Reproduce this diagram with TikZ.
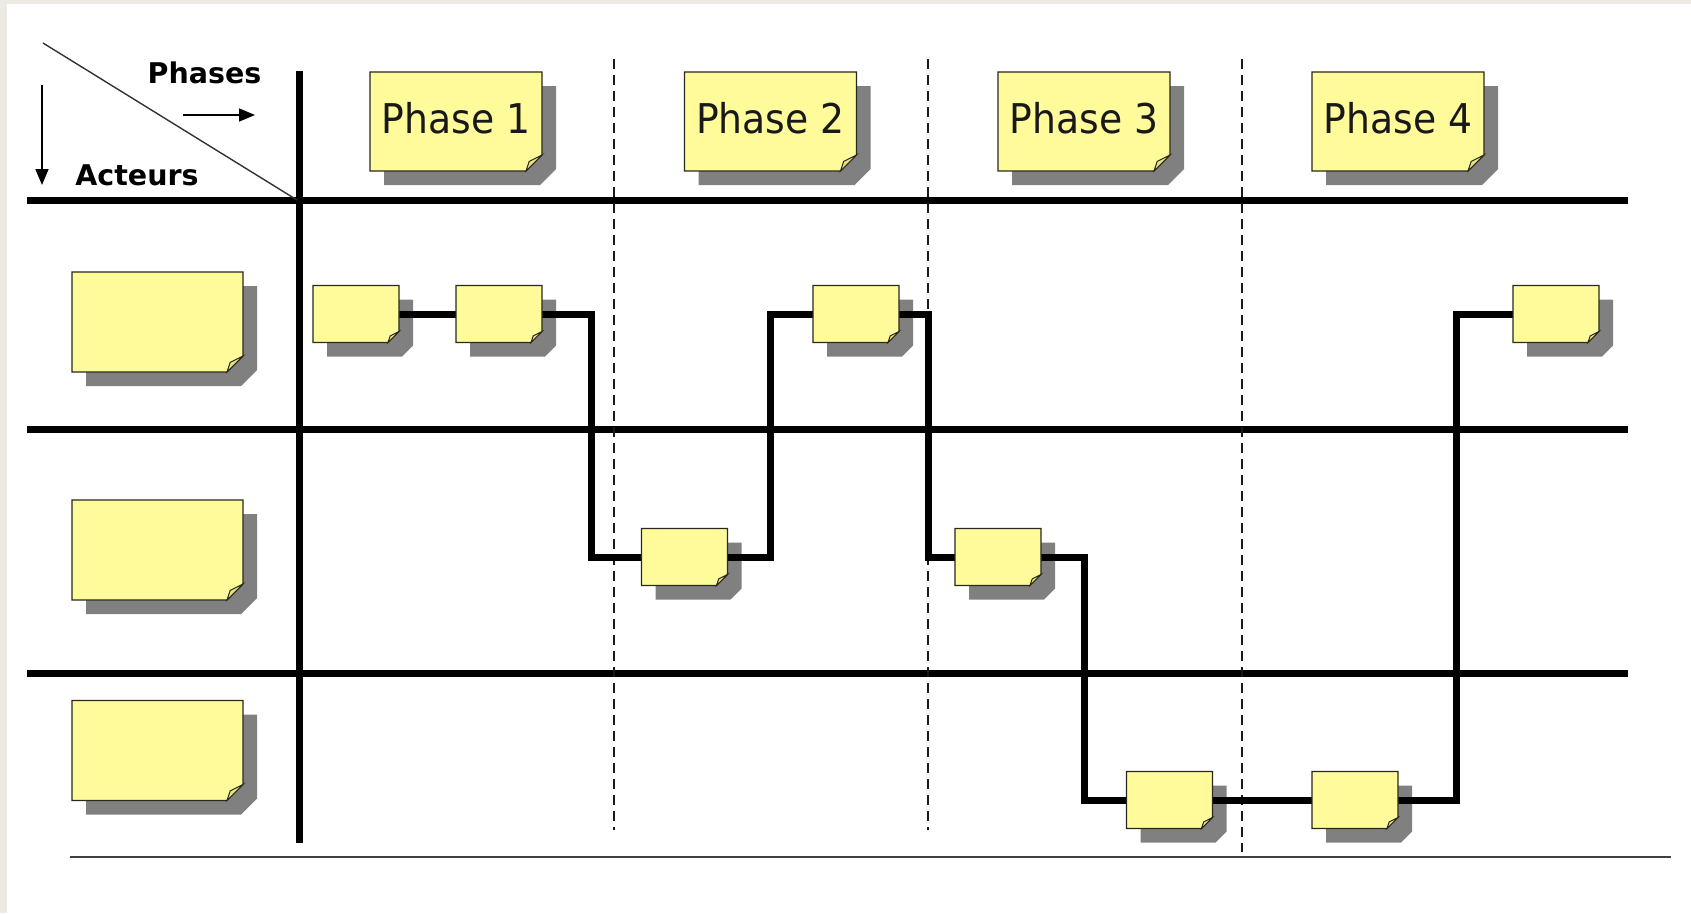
\documentclass[tikz,border=0pt]{standalone}
\usepackage{fontspec}
\setmainfont{DejaVu Sans}
\newfontfamily\notefont[FakeStretch=0.92]{DejaVu Sans}
\usetikzlibrary{arrows.meta}

\definecolor{noteyellow}{RGB}{255,251,155}
\definecolor{foldyellow}{RGB}{232,226,130}
\definecolor{noteedge}{RGB}{40,40,30}
\definecolor{shadowgrey}{RGB}{128,128,128}
\definecolor{framebeige}{RGB}{237,233,227}

\pgfdeclarelayer{paper}
\pgfdeclarelayer{grid}
\pgfdeclarelayer{shadows}
\pgfdeclarelayer{links}
\pgfdeclarelayer{bodies}
\pgfsetlayers{paper,grid,shadows,links,bodies,main}

\tikzset{
  gridline/.style={line width=7pt, black},
  phasesep/.style={line width=2pt, black!90, dash pattern=on 10pt off 6pt},
  link/.style={line width=7pt, black},
  thinline/.style={line width=1.4pt, black!80},
  axisarrow/.style={line width=1.6pt, black, -{Triangle[length=16pt,width=13pt]}},
  headlabel/.style={anchor=base, font=\fontsize{28.5}{34}\selectfont\bfseries},
  notecore/.style={inner sep=0pt, outer sep=0pt},
  bignote/.style={notecore, minimum width=172pt, minimum height=99pt,
    text height=23pt, text depth=0pt, text=black!90,
    font=\notefont\fontsize{41}{48}\selectfont},
  smallnote/.style={notecore, minimum width=86pt, minimum height=57pt},
  actornote/.style={notecore, minimum width=171pt, minimum height=100pt},
  noteshadow/.style={fill=shadowgrey},
  notebody/.style={fill=noteyellow, draw=noteedge, line width=1.2pt, line join=miter},
  notefold/.style={fill=foldyellow, draw=noteedge, line width=1pt},
}

% sticky note: grey drop shadow, yellow sheet with a curled lower-right corner
% #1 = node name, #2 = size of the curled corner
\newcommand\stickynote[2]{%
  \begin{pgfonlayer}{shadows}
    \fill[noteshadow] ([shift={(14,14)}]#1.north west) -- ([shift={(14,14)}]#1.north east)
      -- ([shift={(14,14-#2)}]#1.south east) -- ([shift={(14-#2,14)}]#1.south east)
      -- ([shift={(14,14)}]#1.south west) -- cycle;
  \end{pgfonlayer}
  \begin{pgfonlayer}{bodies}
    \filldraw[notebody] (#1.north west) -- (#1.north east)
      -- ([shift={(0,-#2)}]#1.south east) -- ([shift={(-#2,0)}]#1.south east)
      -- (#1.south west) -- cycle;
    \filldraw[notefold] ([shift={(0,-#2)}]#1.south east)
      -- ([shift={(-0.8*#2,-0.6*#2)}]#1.south east)
      .. controls ([shift={(-0.9*#2,-0.25*#2)}]#1.south east) .. ([shift={(-#2,0)}]#1.south east)
      -- cycle;
  \end{pgfonlayer}%
}

\begin{document}
\begin{tikzpicture}[x=1pt, y=-1pt]
  % page and frame
  \useasboundingbox (0,0) rectangle (1691,913);
  \begin{pgfonlayer}{paper}
    \fill[white] (0,0) rectangle (1691,913);
    \fill[framebeige] (0,0) rectangle (7,913);
    \fill[framebeige] (0,0) rectangle (1691,4);
  \end{pgfonlayer}

  % header corner
  \node[headlabel] (lblphases) at (204.5,83) {Phases};
  \node[headlabel] (lblactors) at (137,185) {Acteurs};
  \draw[thinline] (43,43) -- (297,200);
  \draw[axisarrow] (42,85) -- (42,185);
  \draw[axisarrow] (183,115) -- (255,115);

  % swimlane grid
  \begin{pgfonlayer}{grid}
    \draw[gridline] (299,71) -- (299,843);
    \foreach \y in {200.5,429,673} \draw[gridline] (27,\y) -- (1628,\y);
    \draw[phasesep] (613.6,59) -- (613.6,830);
    \draw[phasesep] (927.5,59) -- (927.5,830);
    \draw[phasesep] (1242.3,59) -- (1242.3,852);
    \draw[line width=2.2pt, black!75] (70,857) -- (1671,857);
  \end{pgfonlayer}

  % phase headers
  \node[bignote] (ph1) at (456,121.5) {Phase 1};
  \node[bignote] (ph2) at (770.5,121.5) {Phase 2};
  \node[bignote] (ph3) at (1084,121.5) {Phase 3};
  \node[bignote] (ph4) at (1398,121.5) {Phase 4};

  % actors
  \node[actornote] (ac1) at (157.5,322) {};
  \node[actornote] (ac2) at (157.5,550) {};
  \node[actornote] (ac3) at (157.5,750.5) {};

  % activities
  \node[smallnote] (t11) at (356,314) {};
  \node[smallnote] (t12) at (499,314) {};
  \node[smallnote] (t13) at (856,314) {};
  \node[smallnote] (t14) at (1556,314) {};
  \node[smallnote] (t21) at (684.5,557) {};
  \node[smallnote] (t22) at (998,557) {};
  \node[smallnote] (t31) at (1169.5,800) {};
  \node[smallnote] (t32) at (1355,800) {};

  \foreach \n in {ph1,ph2,ph3,ph4,ac1,ac2,ac3} {\stickynote{\n}{16}}
  \foreach \n in {t11,t12,t13,t14,t21,t22,t31,t32} {\stickynote{\n}{11}}

  % flow between activities
  \coordinate (j1) at (591,0);
  \coordinate (j2) at (770,0);
  \coordinate (j3) at (928,0);
  \coordinate (j4) at (1084,0);
  \coordinate (j5) at (1456,0);
  \begin{pgfonlayer}{links}
    \draw[link] (t11.east) -- (t12.west);
    \draw[link] (t12.east) -| (j1 |- t21.west) -- (t21.west);
    \draw[link] (t21.east) -| (j2 |- t13.west) -- (t13.west);
    \draw[link] (t13.east) -| (j3 |- t22.west) -- (t22.west);
    \draw[link] (t22.east) -| (j4 |- t31.west) -- (t31.west);
    \draw[link] (t31.east) -- (t32.west);
    \draw[link] (t32.east) -| (j5 |- t14.west) -- (t14.west);
  \end{pgfonlayer}
\end{tikzpicture}
\end{document}
